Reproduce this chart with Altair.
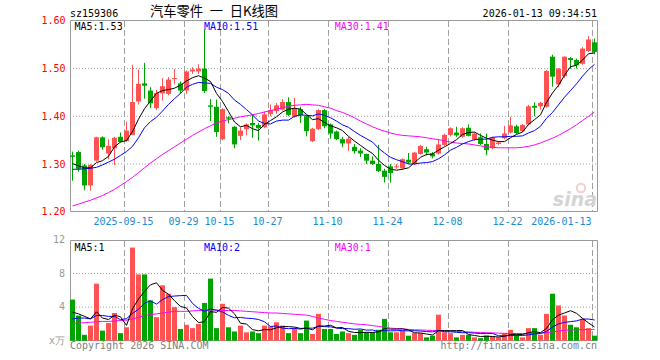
import altair as alt
import pandas as pd

# ---------------- text ----------------
symbol = "sz159306"
title_text = "汽车零件\u2002一\u2002日K线图"
timestamp = "2026-01-13 09:34:51"
price_ma_labels = ["MA5:1.53", "MA10:1.51", "MA30:1.41"]
vol_ma_labels = ["MA5:1", "MA10:2", "MA30:1"]
copyright_text = "Copyright 2026 SINA.COM"
url_text = "http://finance.sina.com.cn"
logo_text = "sina"

# ---------------- data ----------------
opens = [1.318, 1.325, 1.297, 1.255, 1.307, 1.356, 1.322, 1.333, 1.357, 1.348,
         1.361, 1.431, 1.469, 1.454, 1.417, 1.448, 1.447, 1.478, 1.469, 1.454,
         1.494, 1.494, 1.500, 1.423, 1.420, 1.352, 1.398, 1.378, 1.359, 1.373,
         1.386, 1.382, 1.377, 1.405, 1.411, 1.414, 1.430, 1.399, 1.415, 1.400,
         1.348, 1.373, 1.413, 1.383, 1.368, 1.352, 1.343, 1.336, 1.328, 1.321,
         1.307, 1.300, 1.286, 1.295, 1.293, 1.291, 1.309, 1.300, 1.321, 1.331,
         1.322, 1.322, 1.340, 1.361, 1.366, 1.357, 1.376, 1.351, 1.356, 1.342,
         1.333, 1.342, 1.354, 1.366, 1.379, 1.369, 1.383, 1.422, 1.421, 1.420,
         1.525, 1.467, 1.484, 1.522, 1.518, 1.510, 1.537, 1.555]
highs = [1.326, 1.328, 1.300, 1.300, 1.357, 1.358, 1.352, 1.357, 1.366, 1.389,
         1.508, 1.498, 1.512, 1.461, 1.455, 1.480, 1.482, 1.499, 1.473, 1.496,
         1.503, 1.509, 1.582, 1.436, 1.435, 1.417, 1.400, 1.380, 1.377, 1.385,
         1.403, 1.386, 1.410, 1.425, 1.428, 1.436, 1.440, 1.439, 1.420, 1.401,
         1.376, 1.415, 1.415, 1.385, 1.370, 1.357, 1.357, 1.342, 1.333, 1.322,
         1.316, 1.340, 1.290, 1.300, 1.300, 1.312, 1.323, 1.325, 1.340, 1.336,
         1.325, 1.352, 1.363, 1.377, 1.378, 1.377, 1.383, 1.366, 1.364, 1.364,
         1.357, 1.348, 1.380, 1.399, 1.382, 1.384, 1.424, 1.429, 1.430, 1.497,
         1.529, 1.501, 1.526, 1.524, 1.521, 1.545, 1.568, 1.563]
lows = [1.265, 1.284, 1.245, 1.244, 1.305, 1.330, 1.310, 1.298, 1.345, 1.347,
        1.360, 1.425, 1.437, 1.417, 1.413, 1.433, 1.444, 1.467, 1.448, 1.447,
        1.489, 1.489, 1.449, 1.390, 1.357, 1.350, 1.385, 1.333, 1.350, 1.360,
        1.355, 1.349, 1.375, 1.400, 1.405, 1.412, 1.400, 1.397, 1.386, 1.358,
        1.346, 1.371, 1.375, 1.353, 1.350, 1.335, 1.327, 1.322, 1.315, 1.300,
        1.298, 1.283, 1.261, 1.261, 1.290, 1.288, 1.300, 1.298, 1.320, 1.318,
        1.312, 1.320, 1.338, 1.358, 1.357, 1.355, 1.358, 1.349, 1.340, 1.319,
        1.331, 1.340, 1.352, 1.364, 1.363, 1.367, 1.381, 1.400, 1.414, 1.418,
        1.462, 1.461, 1.480, 1.500, 1.500, 1.508, 1.535, 1.530]
closes = [1.315, 1.290, 1.255, 1.298, 1.356, 1.335, 1.338, 1.355, 1.346, 1.370,
          1.430, 1.468, 1.464, 1.427, 1.449, 1.463, 1.477, 1.480, 1.454, 1.494,
          1.498, 1.500, 1.453, 1.420, 1.367, 1.415, 1.395, 1.341, 1.370, 1.383,
          1.381, 1.375, 1.404, 1.413, 1.423, 1.430, 1.403, 1.417, 1.402, 1.369,
          1.374, 1.413, 1.379, 1.364, 1.352, 1.343, 1.353, 1.327, 1.322, 1.307,
          1.300, 1.285, 1.273, 1.281, 1.295, 1.310, 1.303, 1.324, 1.338, 1.324,
          1.316, 1.341, 1.361, 1.375, 1.360, 1.375, 1.359, 1.364, 1.342, 1.329,
          1.356, 1.345, 1.364, 1.381, 1.365, 1.382, 1.421, 1.418, 1.428, 1.495,
          1.483, 1.500, 1.525, 1.518, 1.507, 1.542, 1.561, 1.535]
volumes = [4.9, 3.0, 0.7, 1.8, 6.8, 1.2, 2.1, 3.3, 0.9, 1.6,
           11.1, 7.9, 7.9, 4.8, 2.8, 6.6, 5.6, 4.0, 1.4, 1.9,
           1.5, 2.0, 4.5, 7.4, 1.5, 4.4, 1.6, 1.1, 1.8, 1.0,
           1.1, 0.9, 1.8, 1.7, 2.2, 1.8, 0.9, 1.5, 0.9, 2.4,
           0.8, 3.2, 1.4, 1.4, 0.8, 1.1, 0.9, 0.7, 1.3, 1.0,
           1.0, 1.3, 2.6, 1.0, 1.0, 1.2, 0.6, 0.9, 0.9, 0.4,
           0.6, 3.1, 1.0, 0.9, 0.4, 0.7, 0.7, 0.4, 0.3, 0.6,
           0.5, 0.4, 0.9, 1.3, 0.7, 0.4, 1.5, 1.5, 0.7, 3.2,
           5.6, 4.2, 3.0, 1.9, 1.6, 2.6, 1.5, 0.6]
ma5 = [1.301, 1.296, 1.292, 1.292, 1.303, 1.307, 1.316, 1.336, 1.346, 1.349,
       1.368, 1.394, 1.416, 1.432, 1.448, 1.454, 1.456, 1.459, 1.465, 1.474,
       1.481, 1.485, 1.480, 1.473, 1.448, 1.431, 1.410, 1.388, 1.378, 1.381,
       1.374, 1.370, 1.383, 1.391, 1.399, 1.409, 1.415, 1.417, 1.415, 1.404,
       1.393, 1.395, 1.387, 1.380, 1.376, 1.370, 1.358, 1.348, 1.339, 1.330,
       1.322, 1.308, 1.297, 1.289, 1.287, 1.289, 1.292, 1.303, 1.314, 1.320,
       1.321, 1.329, 1.336, 1.343, 1.351, 1.362, 1.366, 1.367, 1.360, 1.354,
       1.350, 1.347, 1.347, 1.355, 1.362, 1.367, 1.383, 1.393, 1.403, 1.429,
       1.449, 1.465, 1.486, 1.504, 1.507, 1.518, 1.531, 1.533]
ma10 = [1.289, 1.289, 1.290, 1.291, 1.293, 1.298, 1.304, 1.310, 1.318, 1.326,
        1.337, 1.355, 1.376, 1.389, 1.398, 1.411, 1.425, 1.437, 1.448, 1.461,
        1.467, 1.471, 1.470, 1.469, 1.461, 1.456, 1.448, 1.434, 1.425, 1.414,
        1.403, 1.390, 1.385, 1.384, 1.390, 1.392, 1.392, 1.400, 1.403, 1.402,
        1.401, 1.405, 1.402, 1.397, 1.390, 1.382, 1.377, 1.368, 1.360, 1.353,
        1.346, 1.333, 1.323, 1.314, 1.309, 1.305, 1.300, 1.300, 1.302, 1.303,
        1.305, 1.311, 1.319, 1.329, 1.335, 1.342, 1.347, 1.351, 1.352, 1.352,
        1.356, 1.357, 1.357, 1.358, 1.358, 1.359, 1.365, 1.370, 1.379, 1.396,
        1.408, 1.424, 1.440, 1.454, 1.468, 1.484, 1.498, 1.509]
ma30 = [1.212, 1.216, 1.220, 1.224, 1.229, 1.234, 1.240, 1.247, 1.255, 1.263,
        1.272, 1.282, 1.292, 1.302, 1.311, 1.320, 1.328, 1.336, 1.344, 1.352,
        1.360, 1.367, 1.374, 1.380, 1.386, 1.390, 1.393, 1.396, 1.399, 1.401,
        1.403, 1.406, 1.409, 1.412, 1.415, 1.418, 1.421, 1.423, 1.424, 1.425,
        1.424, 1.423, 1.420, 1.417, 1.412, 1.408, 1.403, 1.397, 1.390, 1.384,
        1.378, 1.373, 1.369, 1.365, 1.362, 1.360, 1.359, 1.358, 1.357, 1.355,
        1.353, 1.351, 1.349, 1.346, 1.344, 1.343, 1.342, 1.340, 1.338, 1.336,
        1.335, 1.334, 1.334, 1.334, 1.334, 1.335, 1.337, 1.340, 1.344, 1.349,
        1.354, 1.360, 1.367, 1.374, 1.382, 1.391, 1.400, 1.409]
vma5 = [3.4, 3.2, 2.9, 2.6, 3.44, 2.70, 2.52, 3.04, 2.86, 1.82,
        3.80, 4.96, 5.88, 6.66, 6.90, 6.00, 5.54, 4.76, 4.08, 3.90,
        2.88, 2.16, 2.26, 3.46, 3.38, 3.96, 3.88, 3.20, 2.08, 1.98,
        1.32, 1.18, 1.32, 1.30, 1.54, 1.68, 1.68, 1.62, 1.46, 1.50,
        1.30, 1.76, 1.74, 1.84, 1.52, 1.58, 1.12, 0.98, 0.96, 1.00,
        0.98, 1.06, 1.44, 1.38, 1.38, 1.42, 1.28, 0.94, 0.92, 0.80,
        0.68, 1.18, 1.20, 1.20, 1.20, 1.22, 0.74, 0.62, 0.50, 0.54,
        0.50, 0.44, 0.54, 0.74, 0.76, 0.74, 0.96, 1.08, 0.96, 1.46,
        2.50, 3.04, 3.30, 3.58, 3.26, 2.66, 2.12, 1.64]
vma10 = [2.6, 2.7, 2.7, 2.6, 3.0, 3.0, 2.9, 2.9, 2.5, 2.63,
         3.25, 3.74, 4.46, 4.76, 4.36, 4.90, 5.25, 5.32, 5.37, 5.40,
         4.44, 3.85, 3.51, 3.77, 3.64, 3.42, 3.02, 2.73, 2.77, 2.68,
         2.64, 2.53, 2.26, 1.69, 1.76, 1.50, 1.43, 1.47, 1.38, 1.52,
         1.49, 1.72, 1.68, 1.65, 1.51, 1.44, 1.44, 1.36, 1.40, 1.26,
         1.28, 1.09, 1.21, 1.17, 1.19, 1.20, 1.17, 1.19, 1.15, 1.09,
         1.05, 1.23, 1.07, 1.06, 1.00, 0.95, 0.96, 0.91, 0.85, 0.87,
         0.86, 0.59, 0.58, 0.62, 0.65, 0.62, 0.70, 0.81, 0.85, 1.11,
         1.62, 2.00, 2.19, 2.27, 2.36, 2.58, 2.58, 2.47]
vma30 = [2.05, 2.1, 2.15, 2.2, 2.25, 2.3, 2.3, 2.35, 2.4, 2.45,
         2.6, 2.8, 3.0, 3.1, 3.2, 3.3, 3.4, 3.5, 3.5, 3.5,
         3.55, 3.6, 3.65, 3.65, 3.65, 3.6, 3.6, 3.6, 3.55, 3.5,
         3.45, 3.4, 3.35, 3.3, 3.3, 3.25, 3.2, 3.15, 3.1, 3.05,
         2.9, 2.7, 2.55, 2.4, 2.3, 2.2, 2.1, 2.0, 1.95, 1.9,
         1.8, 1.7, 1.6, 1.5, 1.45, 1.4, 1.35, 1.3, 1.28, 1.25,
         1.22, 1.2, 1.17, 1.14, 1.1, 1.07, 1.05, 1.0, 0.97, 0.95,
         0.93, 0.9, 0.88, 0.86, 0.85, 0.85, 0.86, 0.88, 0.9, 0.95,
         1.05, 1.15, 1.25, 1.28, 1.3, 1.32, 1.33, 1.35]

grid_idx = [9, 19, 25, 33, 43, 53, 63, 73, 87]
date_labels = ["2025-09-15", "09-29", "10-15", "10-27", "11-10",
               "11-24", "12-08", "12-22", "2026-01-13"]
price_ticks = [1.20, 1.30, 1.40, 1.50, 1.60]
vol_ticks = [0, 4, 8, 12]
vol_tick_labels = ["x万", "4", "8", "12"]

# ---------------- styling ----------------
RED = "#ff5353"
GREEN = "#00a400"
GRID = "#a0a0a0"
BORDER = "#9a9a9a"
DATE_BLUE = "#1a8ad4"
MONO = "DejaVu Sans Mono"
CJK = "Noto Sans CJK SC"
N = len(closes)
PW, PH = 528, 321

xs = alt.Scale(domain=[0, N], range=[0, PW], nice=False, zero=False)
ps = alt.Scale(domain=[1.2, 1.6], range=[191.7, 0.9], nice=False, zero=False)
vs = alt.Scale(domain=[0, 12], range=[320.7, 220], nice=False, zero=False)
dir_scale = alt.Scale(domain=["up", "down"], range=[RED, GREEN])
ma_scale = alt.Scale(domain=["MA5", "MA10", "MA30"], range=["#000000", "#0000ff", "#ff00ff"])

df = pd.DataFrame({"idx": list(range(N)), "open": opens, "high": highs,
                   "low": lows, "close": closes, "vol": volumes})
df["dir"] = ["up" if c >= o else "down" for o, c in zip(opens, closes)]
df["xc"] = df["idx"] + 2.5 / 6
df["x2"] = df["idx"] + 5 / 6
mid = (df["open"] + df["close"]) / 2
half = ((df["open"] - df["close"]).abs() / 2).clip(lower=0.00105)
df["blo"] = mid - half
df["bhi"] = mid + half

def long_df(series):
    rows = []
    for name, arr in series:
        for i, v in enumerate(arr):
            rows.append({"s": name, "idx": i, "xc": i + 2.5 / 6, "v": v})
    return pd.DataFrame(rows)

ma_df = long_df([("MA30", ma30), ("MA10", ma10), ("MA5", ma5)])
vma_df = long_df([("MA30", vma30), ("MA10", vma10), ("MA5", vma5)])

grid_df = pd.DataFrame({"g": grid_idx, "label": date_labels})
grid_df["gx"] = grid_df["g"] + 1 / 12
one = pd.DataFrame({"a": [0]})

X = lambda f: alt.X(f, scale=xs, axis=None)

layers = []
# vertical dashed grid
layers.append(alt.Chart(grid_df).mark_rule(color=GRID, strokeDash=[6, 3], strokeWidth=1)
              .encode(x=X("gx:Q"), y=alt.value(1), y2=alt.value(191)))
layers.append(alt.Chart(grid_df).mark_rule(color=GRID, strokeDash=[6, 3], strokeWidth=1)
              .encode(x=X("gx:Q"), y=alt.value(221), y2=alt.value(320)))
# horizontal dotted grid + price axis
pg = pd.DataFrame({"p": price_ticks})
layers.append(alt.Chart(pg).transform_filter("datum.p > 1.21 && datum.p < 1.59")
              .mark_rule(color=GRID, strokeDash=[1, 2], strokeWidth=1)
              .encode(y=alt.Y("p:Q", scale=ps,
                              axis=alt.Axis(values=price_ticks, format=".2f", ticks=False, tickSize=0,
                                            domain=False, grid=False, labelColor="#ff0000",
                                            labelFont=MONO, labelFontSize=10, labelPadding=5,
                                            labelOverlap=False, labelBaseline="middle", title=None)),
                      x=alt.value(0), x2=alt.value(PW)))
vg = pd.DataFrame({"v": [4, 8]})
layers.append(alt.Chart(vg).mark_rule(color=GRID, strokeDash=[1, 2], strokeWidth=1)
              .encode(y=alt.Y("v:Q", scale=vs, axis=None), x=alt.value(0), x2=alt.value(PW)))
# borders
layers.append(alt.Chart(one).mark_rect(fillOpacity=0, stroke=BORDER, strokeWidth=1)
              .encode(x=alt.value(0.5), x2=alt.value(PW - 0.5), y=alt.value(0.5), y2=alt.value(191.5)))
layers.append(alt.Chart(one).mark_rect(fillOpacity=0, stroke=BORDER, strokeWidth=1)
              .encode(x=alt.value(0.5), x2=alt.value(PW - 0.5), y=alt.value(220.5), y2=alt.value(320.5)))
# candles
layers.append(alt.Chart(df).mark_rule(strokeWidth=1)
              .encode(x=X("xc:Q"), y=alt.Y("low:Q", scale=ps, axis=None), y2="high:Q",
                      color=alt.Color("dir:N", scale=dir_scale, legend=None)))
layers.append(alt.Chart(df).mark_rect()
              .encode(x=X("idx:Q"), x2="x2:Q", y=alt.Y("blo:Q", scale=ps, axis=None), y2="bhi:Q",
                      color=alt.Color("dir:N", scale=dir_scale, legend=None)))
# volume bars
layers.append(alt.Chart(df).mark_rect()
              .encode(x=X("idx:Q"), x2="x2:Q", y=alt.Y("vol:Q", scale=vs, axis=None), y2=alt.value(320.7),
                      color=alt.Color("dir:N", scale=dir_scale, legend=None)))
# MA lines
layers.append(alt.Chart(ma_df).mark_line(strokeWidth=1)
              .encode(x=X("xc:Q"), y=alt.Y("v:Q", scale=ps, axis=None),
                      color=alt.Color("s:N", scale=ma_scale, legend=None), order="idx:Q"))
layers.append(alt.Chart(vma_df).mark_line(strokeWidth=1)
              .encode(x=X("xc:Q"), y=alt.Y("v:Q", scale=vs, axis=None),
                      color=alt.Color("s:N", scale=ma_scale, legend=None), order="idx:Q"))

def txt(t, x, y, color, align="left", size=10, font=MONO, baseline="alphabetic", **kw):
    return (alt.Chart(pd.DataFrame({"t": [t]}))
            .mark_text(align=align, baseline=baseline, font=font, fontSize=size, color=color, **kw)
            .encode(x=alt.value(x), y=alt.value(y), text="t:N"))

# header
layers.append(txt(symbol, 0, -3, "#000000"))
layers.append(txt(title_text, 144, -4.2, "#000000", align="center", size=13.3, font=CJK))
layers.append(txt(timestamp, PW - 1, -3, "#000000", align="right"))
# MA labels
ma_cols = ["#000000", "#0000ff", "#ff00ff"]
ma_x = [4.5, 134, 264.7]
for lab, cx, col in zip(price_ma_labels, ma_x, ma_cols):
    layers.append(txt(lab, cx, 9.5, col))
for lab, cx, col in zip(vol_ma_labels, ma_x, ma_cols):
    layers.append(txt(lab, cx, 230.5, col))
# date labels
layers.append(alt.Chart(grid_df.iloc[:-1]).mark_text(align="center", baseline="alphabetic", font=MONO,
                                                     fontSize=10, color=DATE_BLUE, dx=-1)
              .encode(x=X("gx:Q"), y=alt.value(205), text="label:N"))
layers.append(alt.Chart(grid_df.iloc[-1:]).mark_text(align="right", baseline="alphabetic", font=MONO,
                                                     fontSize=10, color=DATE_BLUE, dx=-1)
              .encode(x=X("gx:Q"), y=alt.value(205), text="label:N"))
# volume axis labels
layers.append(alt.Chart(pd.DataFrame({"v": vol_ticks, "t": vol_tick_labels}))
              .mark_text(align="right", baseline="middle", font=MONO, fontSize=10, color="#999999")
              .encode(y=alt.Y("v:Q", scale=vs, axis=None), x=alt.value(-5), text="t:N"))
# footer
layers.append(txt(copyright_text, 0, 329, "#808080"))
layers.append(txt(url_text, PW - 1, 329, "#808080", align="right"))
# watermark
layers.append(txt(logo_text, PW - 1, 186, "#d4d4d4", align="right", size=19, font="DejaVu Sans",
                  fontWeight="bold", fontStyle="italic"))
layers.append(alt.Chart(one).mark_point(shape="circle", size=70, filled=False, stroke="#f2b8b8", strokeWidth=2)
              .encode(x=alt.value(PW - 17), y=alt.value(168)))

chart = (alt.layer(*layers)
         .resolve_scale(y="independent", color="independent")
         .properties(width=PW, height=PH,
                     padding={"left": 70, "top": 20, "right": 62, "bottom": 19},
                     autosize=alt.AutoSizeParams(type="none"),
                     background="#ffffff")
         .configure_view(strokeWidth=0))

chart.save("out.html", embed_options={"renderer": "svg", "actions": False})
